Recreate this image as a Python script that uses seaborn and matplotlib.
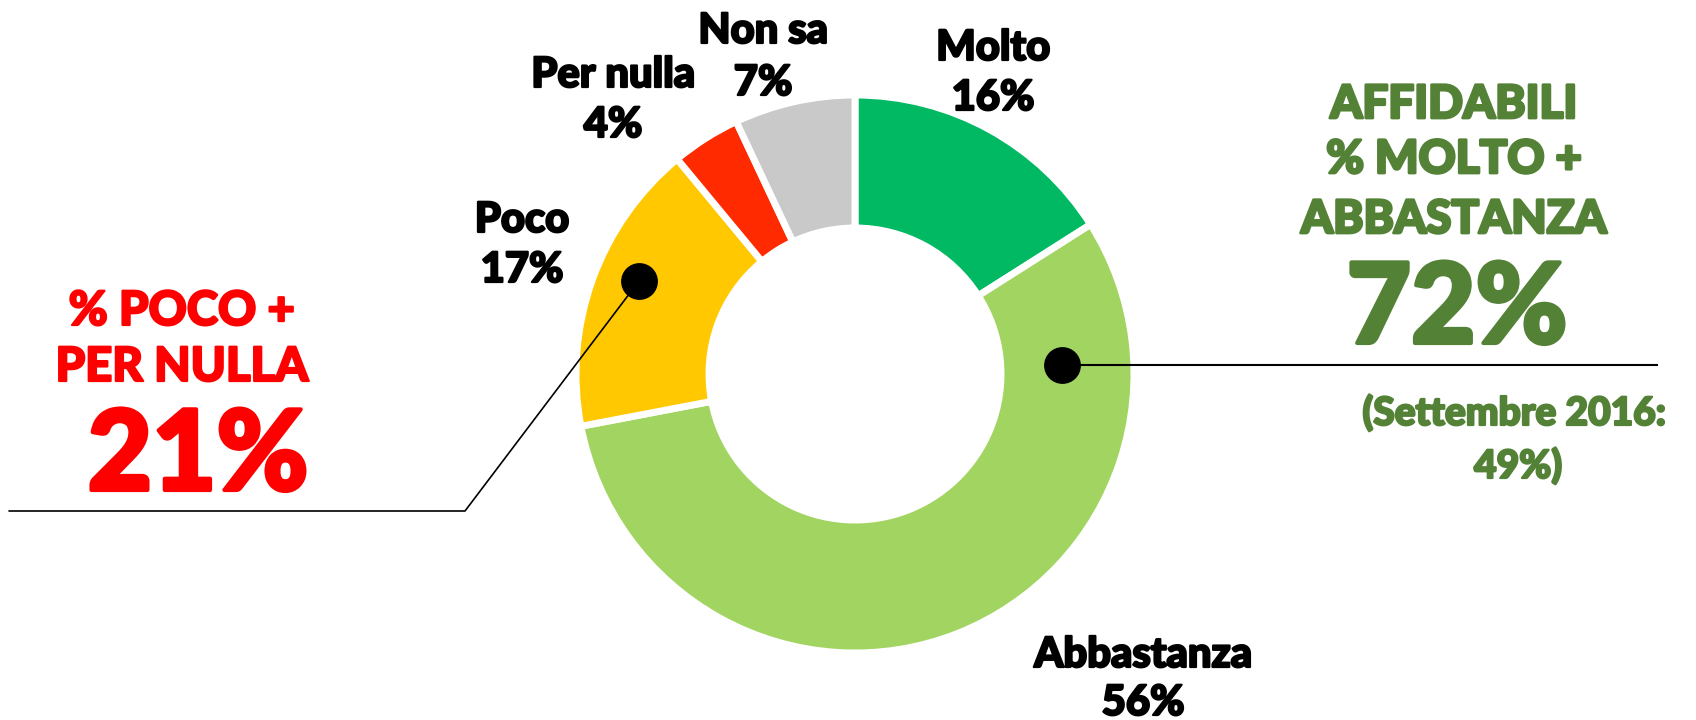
import matplotlib.pyplot as plt
import matplotlib.patheffects as pe
import seaborn as sns

categories = ['Molto', 'Abbastanza', 'Poco', 'Per nulla', 'Non sa']
values = [16, 56, 17, 4, 7]
colors = ['#00B962', '#A2D462', '#FFC800', '#FF2A00', '#C9C9C9']

green_lines = ['AFFIDABILI', '% MOLTO +', 'ABBASTANZA']
green_total = '72%'
green_note = ['(Settembre 2016:', '49%)']
red_lines = ['% POCO +', 'PER NULLA']
red_total = '21%'

GREEN = '#538135'
RED = '#FF0000'
FONT = 'Lato'
WEIGHT = 'black'

sns.set_theme(style='white')
plt.rcParams['font.family'] = [FONT, 'DejaVu Sans']


def heavy(color, w=1.6):
    # thicken the glyphs a little, the source font is heavier than Lato Bold
    return [pe.withStroke(linewidth=w, foreground=color)]


W, H = 1696, 720
fig = plt.figure(figsize=(W / 100, H / 100), dpi=100)
ax = fig.add_axes([0, 0, 1, 1])

cx, cy, R, r_in = 855, 346, 279, 146
ax.pie(values, colors=colors, startangle=90, counterclock=False,
       center=(cx, cy), radius=R, frame=True,
       wedgeprops=dict(width=R - r_in, edgecolor='white', linewidth=5))
ax.set_xlim(0, W)
ax.set_ylim(0, H)
ax.set_aspect('equal')
ax.axis('off')

# segment labels: (x, baseline of name, baseline of value)
label_pos = {
    'Molto': (993, 660, 610),
    'Abbastanza': (1143, 53, 5),
    'Poco': (522, 488, 438),
    'Per nulla': (613, 633, 583),
    'Non sa': (763, 677, 625),
}
for cat, val in zip(categories, values):
    x, y1, y2 = label_pos[cat]
    ax.text(x, y1, cat, ha='center', va='baseline', fontsize=30, fontweight=WEIGHT,
            color='black', path_effects=heavy('black'))
    ax.text(x, y2, f'{val}%', ha='center', va='baseline', fontsize=30, fontweight=WEIGHT,
            color='black', path_effects=heavy('black'))

# leader lines and dots
ax.plot([1062, 1658], [355, 355], color='black', lw=1.5, solid_capstyle='butt')
ax.plot([639, 465, 9], [439, 209, 209], color='black', lw=1.2)
ax.scatter([1062, 639], [355, 439], s=650, color='black', zorder=5)

# green summary
for txt, yb in zip(green_lines, [602, 547, 487]):
    ax.text(1454, yb, txt, ha='center', va='baseline', fontsize=33, fontweight=WEIGHT,
            color=GREEN, path_effects=heavy(GREEN, 2))
ax.text(1457, 377, green_total, ha='center', va='baseline', fontsize=80, fontweight=WEIGHT,
        color=GREEN, path_effects=heavy(GREEN, 3))
ax.text(1514, 295, green_note[0], ha='center', va='baseline', fontsize=28, fontweight=WEIGHT,
        color=GREEN, path_effects=heavy(GREEN))
ax.text(1518, 242, green_note[1], ha='center', va='baseline', fontsize=28, fontweight=WEIGHT,
        color=GREEN, path_effects=heavy(GREEN))

# red summary
for txt, yb in zip(red_lines, [395, 339]):
    ax.text(182, yb, txt, ha='center', va='baseline', fontsize=34, fontweight=WEIGHT,
            color=RED, path_effects=heavy(RED))
ax.text(198, 230, red_total, ha='center', va='baseline', fontsize=80, fontweight=WEIGHT,
        color=RED, path_effects=heavy(RED, 3))

fig.savefig('out.png', dpi=100)
